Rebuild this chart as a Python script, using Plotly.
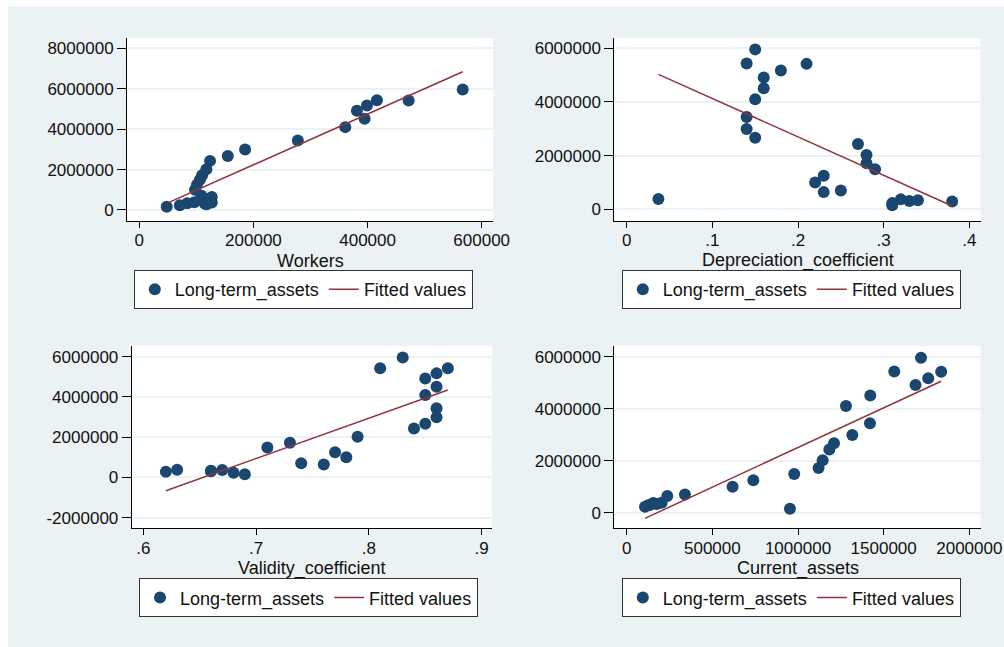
import plotly.graph_objects as go

W, H = 1004, 647

# ---------------- data ----------------
long_term_assets = [5960000, 5430000, 5420000, 5170000, 4910000, 4510000, 4100000,
                    3440000, 2990000, 2670000, 2430000, 2020000, 1720000, 1490000,
                    1250000, 1000000, 700000, 640000, 380000, 370000, 334000,
                    310000, 288000, 230000, 155000]
workers = [566700, 416400, 472000, 398900, 381300, 394800, 360900,
           277800, 185400, 155000, 124000, 117500, 110000, 106000,
           101000, 97700, 109000, 127000, 96500, 127000, 84000,
           115000, 118000, 71000, 48000]
depreciation_coefficient = [0.15, 0.14, 0.21, 0.18, 0.16, 0.16, 0.15,
                            0.14, 0.14, 0.15, 0.27, 0.28, 0.28, 0.29,
                            0.23, 0.22, 0.25, 0.23, 0.037, 0.32, 0.34,
                            0.33, 0.38, 0.31, 0.31]
validity_coefficient = [0.83, 0.81, 0.87, 0.86, 0.85, 0.86, 0.85,
                        0.86, 0.86, 0.85, 0.84, 0.79, 0.73, 0.71,
                        0.77, 0.78, 0.74, 0.76, 0.63, 0.67, 0.66,
                        0.66, 0.62, 0.68, 0.69]
current_assets = [1718000, 1562000, 1836000, 1760000, 1686000, 1422000, 1280000,
                  1420000, 1317000, 1210000, 1183000, 1144000, 1120000, 978000,
                  739000, 618000, 340000, 237000, 204000, 155000, 175000,
                  140000, 126000, 107000, 953000]

# fitted-line end points
fit_workers_x = [48000, 566700]
fit_workers_y = [328000, 6839000]
fit_dep_x = [0.037, 0.380]
fit_dep_y = [5030000, 123000]
fit_val_x = [0.62, 0.87]
fit_val_y = [-659000, 4343000]
fit_cur_x = [106800, 1836000]
fit_cur_y = [-216600, 5053000]

x_titles = ["Workers", "Depreciation_coefficient", "Validity_coefficient", "Current_assets"]
x_tickvals = [[0, 200000, 400000, 600000],
              [0, 0.1, 0.2, 0.3, 0.4],
              [0.6, 0.7, 0.8, 0.9],
              [0, 500000, 1000000, 1500000, 2000000]]
x_ticktext = [["0", "200000", "400000", "600000"],
              ["0", ".1", ".2", ".3", ".4"],
              [".6", ".7", ".8", ".9"],
              ["0", "500000", "1000000", "1500000", "2000000"]]
y_tickvals = [[0, 2000000, 4000000, 6000000, 8000000],
              [0, 2000000, 4000000, 6000000],
              [-2000000, 0, 2000000, 4000000, 6000000],
              [0, 2000000, 4000000, 6000000]]
y_ticktext = [["0", "2000000", "4000000", "6000000", "8000000"],
              ["0", "2000000", "4000000", "6000000"],
              ["-2000000", "0", "2000000", "4000000", "6000000"],
              ["0", "2000000", "4000000", "6000000"]]
series_names = ["Long-term_assets", "Fitted values"]

# ---------------- layout constants (pixels) ----------------
BG = "#EAF2F3"
NAVY = "#1a476f"
MAROON = "#90353b"
FONT = "Liberation Sans, Arial, sans-serif"
FS = 17

panels = [  # left, right, top, bottom in px
    (127.0, 493.0, 38.0, 220.7),
    (614.3, 980.7, 38.0, 220.7),
    (131.7, 491.7, 346.0, 528.3),
    (614.3, 980.7, 346.0, 528.3),
]
x_ranges = [[-21600, 619800], [-0.0145, 0.4133], [0.5897, 0.9089], [-72370, 2066500]]
y_ranges = [[-530000, 8510000], [-425000, 6384000], [-2527000, 6530000], [-600000, 6410000]]
legend_pos = [(133.8, 270.0), (621.8, 270.0), (139.0, 578.3), (621.8, 578.3)]

xs = [workers, depreciation_coefficient, validity_coefficient, current_assets]
fits = [(fit_workers_x, fit_workers_y), (fit_dep_x, fit_dep_y),
        (fit_val_x, fit_val_y), (fit_cur_x, fit_cur_y)]

fig = go.Figure()
layout = dict(
    width=W, height=H, margin=dict(l=0, r=0, t=0, b=0, autoexpand=False),
    paper_bgcolor=BG, plot_bgcolor="white",
    font=dict(family=FONT, size=FS, color="#111111"),
    showlegend=True,
    annotations=[], shapes=[],
)

for i in range(4):
    n = "" if i == 0 else str(i + 1)
    xa, ya = "x" + n, "y" + n
    leg = "legend" + n
    fig.add_trace(go.Scatter(
        x=xs[i], y=long_term_assets, mode="markers", name=series_names[0],
        marker=dict(color=NAVY, size=12, line=dict(width=0)),
        xaxis=xa, yaxis=ya, legend=leg))
    fig.add_trace(go.Scatter(
        x=fits[i][0], y=fits[i][1], mode="lines", name=series_names[1],
        line=dict(color=MAROON, width=1.5),
        xaxis=xa, yaxis=ya, legend=leg))

    l, r, t, b = panels[i]
    layout["xaxis" + n] = dict(
        domain=[l / W, r / W], range=x_ranges[i], anchor=ya, automargin=False,
        tickmode="array", tickvals=x_tickvals[i], ticktext=x_ticktext[i],
        showgrid=False, zeroline=False, showline=True, linecolor="#000000", linewidth=1,
        ticks="outside", ticklen=6, tickcolor="#000000", ticklabelstandoff=-2,
        tickfont=dict(size=FS, color="#111111", family=FONT))
    layout["yaxis" + n] = dict(
        domain=[1 - b / H, 1 - t / H], range=y_ranges[i], anchor=xa, automargin=False,
        tickmode="array", tickvals=y_tickvals[i], ticktext=y_ticktext[i],
        showgrid=True, gridcolor=BG, gridwidth=1.5, zeroline=False,
        showline=True, linecolor="#000000", linewidth=1,
        ticks="outside", ticklen=9, tickcolor="#000000",
        tickfont=dict(size=FS, color="#111111", family=FONT))
    lx, ly = legend_pos[i]
    layout[leg] = dict(
        x=lx / W, y=1 - ly / H, xanchor="left", yanchor="top",
        orientation="h", bgcolor="white", bordercolor="#333333", borderwidth=1,
        font=dict(size=18, color="#111111", family=FONT))
    layout["annotations"].append(dict(
        text=x_titles[i], xref=xa + " domain", yref=ya + " domain",
        x=0.5, y=0, xanchor="center", yanchor="middle", yshift=-40,
        showarrow=False, font=dict(size=18, color="#111111", family=FONT)))

# white outer border strips (left and top) of the exported image
layout["shapes"].append(dict(type="rect", xref="paper", yref="paper",
                             x0=0, x1=8 / W, y0=0, y1=1, fillcolor="white",
                             line=dict(width=0), layer="below"))
layout["shapes"].append(dict(type="rect", xref="paper", yref="paper",
                             x0=0, x1=1, y0=1 - 6 / H, y1=1, fillcolor="white",
                             line=dict(width=0), layer="below"))

fig.update_layout(**layout)
fig.write_html("out.html", config={"displayModeBar": False},
               post_script="document.body.style.margin='0';")
